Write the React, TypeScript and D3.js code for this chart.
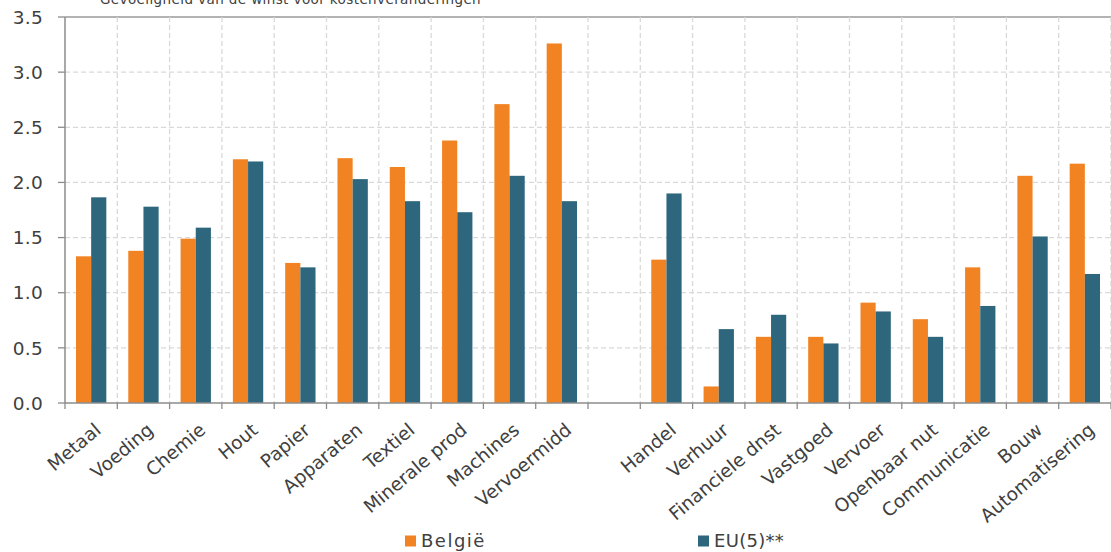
import React from "react";
import * as d3 from "d3";

const categories = ["Metaal", "Voeding", "Chemie", "Hout", "Papier", "Apparaten", "Textiel", "Minerale prod", "Machines", "Vervoermidd", "", "Handel", "Verhuur", "Financiele dnst", "Vastgoed", "Vervoer", "Openbaar nut", "Communicatie", "Bouw", "Automatisering"];
const belgie: (number | null)[] = [1.33, 1.38, 1.49, 2.21, 1.27, 2.22, 2.14, 2.38, 2.71, 3.26, null, 1.30, 0.15, 0.60, 0.60, 0.91, 0.76, 1.23, 2.06, 2.17];
const eu5: (number | null)[] = [1.865, 1.78, 1.59, 2.19, 1.23, 2.03, 1.83, 1.73, 2.06, 1.83, null, 1.90, 0.67, 0.80, 0.54, 0.83, 0.60, 0.88, 1.51, 1.17];
const yTicks = [0, 0.5, 1, 1.5, 2, 2.5, 3, 3.5];
const seriesNames = ["België", "EU(5)**"];
const title = "Gevoeligheid van de winst voor kostenveranderingen";

const W = 1111, H = 552;
const left = 65, right = 1111, top = 17, bottom = 403;
const ORANGE = "#F28322", BLUE = "#2E677D";
const FONT = "'DejaVu Sans', Verdana, sans-serif";

export default function App() {
  const x = d3.scaleBand<number>().domain(d3.range(categories.length)).range([left, right]).paddingInner(0).paddingOuter(0);
  const y = d3.scaleLinear().domain([0, 3.5]).range([bottom, top]);
  const bw = x.bandwidth();
  const barW = bw * 0.29;
  const series = [belgie, eu5];
  const colors = [ORANGE, BLUE];
  const boundaries = d3.range(categories.length + 1).map((i) => left + i * bw);
  return (
    <svg width={W} height={H} style={{ position: "absolute", left: 0, top: 0, background: "#fff" }} fontFamily={FONT}>
      <text x={100} y={3.5} fontSize={13.5} letterSpacing={0.4} fill="#404040">{title}</text>
      {yTicks.map((t) => (
        <g key={t}>
          {t > 0 && t < 3.5 && (
            <line x1={left} x2={right} y1={y(t)} y2={y(t)} stroke="#D9D9D9" strokeWidth={1.3} strokeDasharray="5,3" />
          )}
          <line x1={left - 7} x2={left} y1={y(t)} y2={y(t)} stroke="#8C8C8C" strokeWidth={1.3} />
          <text x={43} y={y(t)} dy="0.36em" textAnchor="end" fontSize={18.5} letterSpacing={0.3} fill="#404040">{t.toFixed(1)}</text>
        </g>
      ))}
      <line x1={left} x2={right} y1={y(3.5)} y2={y(3.5)} stroke="#9A9A9A" strokeWidth={1.3} />
      {boundaries.slice(1).map((bx, i) => (
        <line key={i} x1={bx} x2={bx} y1={top} y2={bottom} stroke="#D9D9D9" strokeWidth={1.3} strokeDasharray="5,3" />
      ))}
      {series.map((s, si) =>
        s.map((v, i) =>
          v == null ? null : (
            <rect key={si + "-" + i} x={(x(i) as number) + bw / 2 - barW + si * barW} y={y(v)} width={barW} height={bottom - y(v)} fill={colors[si]} />
          )
        )
      )}
      <line x1={left} x2={left} y1={top} y2={bottom} stroke="#8C8C8C" strokeWidth={1.5} />
      <line x1={left} x2={right} y1={bottom} y2={bottom} stroke="#8C8C8C" strokeWidth={1.5} />
      {boundaries.map((bx, i) => (
        <line key={i} x1={bx} x2={bx} y1={bottom} y2={bottom + 6} stroke="#8C8C8C" strokeWidth={1.3} />
      ))}
      {categories.map((c, i) =>
        c ? (
          <text key={c} transform={`translate(${(x(i) as number) + bw / 2 + 11},${432}) rotate(-40)`} textAnchor="end" fontSize={18.5} fill="#404040">{c}</text>
        ) : null
      )}
      {seriesNames.map((n, i) => {
        const lx = i === 0 ? 405 : 698;
        return (
          <g key={n}>
            <rect x={lx} y={535.5} width={11} height={11} fill={colors[i]} />
            <text x={lx + 16} y={541} dy="0.36em" fontSize={18} fill="#404040" letterSpacing={i === 0 ? 1.5 : 0.3}>{n}</text>
          </g>
        );
      })}
    </svg>
  );
}
